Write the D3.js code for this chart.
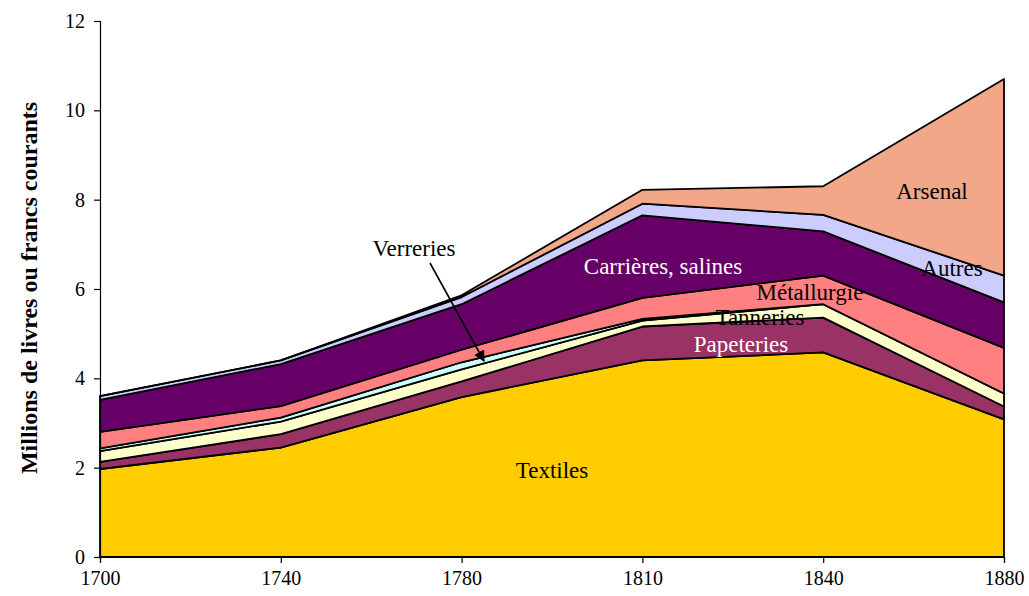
<!DOCTYPE html>
<html>
<head>
<meta charset="utf-8">
<script src="https://cdn.jsdelivr.net/npm/d3@7"></script>
<style>
  html, body { margin: 0; padding: 0; background: #fff; }
  svg text { font-family: "Liberation Serif", "DejaVu Serif", serif; }
</style>
</head>
<body>
<svg id="chart" width="1029" height="596"></svg>
<script>
// Years on the horizontal axis (evenly spaced categories)
const years = ["1700", "1740", "1780", "1810", "1840", "1880"];

// Value of each branch, millions of livres / francs courants
const textiles    = [1.97, 2.45, 3.58, 4.40, 4.58, 3.08];
const papeteries  = [0.16, 0.30, 0.35, 0.76, 0.78, 0.29];
const tanneries   = [0.24, 0.28, 0.27, 0.13, 0.30, 0.29];
const verreries   = [0.06, 0.09, 0.16, 0.04, 0.00, 0.00];
const metallurgie = [0.37, 0.26, 0.28, 0.47, 0.64, 1.02];
const carrieres   = [0.72, 0.94, 1.02, 1.85, 0.99, 1.02];
const autres      = [0.08, 0.08, 0.16, 0.26, 0.37, 0.60];
const arsenal     = [0.00, 0.00, 0.04, 0.31, 0.64, 4.40];

const yTicks = [0, 2, 4, 6, 8, 10, 12];

const series = [
  { key: "Textiles", values: textiles, color: "#FFCC00" },
  { key: "Papeteries", values: papeteries, color: "#993366" },
  { key: "Tanneries", values: tanneries, color: "#FFFFCC" },
  { key: "Verreries", values: verreries, color: "#CCFFFF" },
  { key: "Métallurgie", values: metallurgie, color: "#FF8080" },
  { key: "Carrières, salines", values: carrieres, color: "#660066" },
  { key: "Autres", values: autres, color: "#CCCCFF" },
  { key: "Arsenal", values: arsenal, color: "#F2A789" }
];

const rows = years.map((yr, i) => {
  const r = { year: yr };
  series.forEach(s => { r[s.key] = s.values[i]; });
  return r;
});

const svg = d3.select("#chart");
const plotLeft = 100, plotRight = 1004, plotTop = 21, plotBottom = 557;
const serif = "'Liberation Serif', 'DejaVu Serif', serif";

const x = d3.scalePoint().domain(years).range([plotLeft, plotRight]);
const y = d3.scaleLinear().domain([0, 12]).range([plotBottom, plotTop]);

const stacked = d3.stack().keys(series.map(s => s.key))(rows);

const area = d3.area()
  .x(d => x(d.data.year))
  .y0(d => y(d[0]))
  .y1(d => y(d[1]));

svg.append("g").selectAll("path")
  .data(stacked)
  .join("path")
  .attr("d", area)
  .attr("fill", (d, i) => series[i].color)
  .attr("stroke", "#000")
  .attr("stroke-width", 1.8)
  .attr("stroke-linejoin", "round");

// Axes
const yAxis = d3.axisLeft(y).tickValues(yTicks).tickSize(6).tickPadding(9).tickFormat(d3.format("d"));
const xAxis = d3.axisBottom(x).tickSize(6).tickPadding(8);

const gy = svg.append("g").attr("transform", `translate(${plotLeft},0)`).call(yAxis);
const gx = svg.append("g").attr("transform", `translate(0,${plotBottom})`).call(xAxis);
[gy, gx].forEach(g => {
  g.attr("font-family", serif).attr("font-size", 20);
  g.select(".domain").attr("stroke", "#000").attr("stroke-width", 1.2);
  g.selectAll(".tick line").attr("stroke", "#000").attr("stroke-width", 1.2);
  g.selectAll(".tick text").attr("fill", "#000");
});

// Axis title
svg.append("text")
  .attr("transform", "translate(37,288) rotate(-90)")
  .attr("text-anchor", "middle")
  .attr("font-family", serif)
  .attr("font-size", 24)
  .attr("font-weight", "bold")
  .attr("fill", "#000")
  .text("Millions de livres ou francs courants");

// In-area labels
const labels = [
  { text: "Textiles", x: 552, y: 478, color: "#000" },
  { text: "Papeteries", x: 741, y: 352, color: "#fff" },
  { text: "Tanneries", x: 760, y: 325, color: "#000" },
  { text: "Métallurgie", x: 810, y: 300, color: "#000" },
  { text: "Carrières, salines", x: 663, y: 274, color: "#fff" },
  { text: "Autres", x: 952, y: 276, color: "#000" },
  { text: "Arsenal", x: 932, y: 199, color: "#000" },
  { text: "Verreries", x: 414, y: 256, color: "#000" }
];

svg.append("g").selectAll("text")
  .data(labels)
  .join("text")
  .attr("x", d => d.x)
  .attr("y", d => d.y)
  .attr("text-anchor", "middle")
  .attr("font-family", serif)
  .attr("font-size", 23)
  .attr("fill", d => d.color)
  .text(d => d.text);

// Arrow pointing at the thin Verreries band
svg.append("defs").append("marker")
  .attr("id", "arrowhead")
  .attr("viewBox", "0 0 10 10")
  .attr("refX", 9).attr("refY", 5)
  .attr("markerWidth", 7).attr("markerHeight", 7)
  .attr("orient", "auto")
  .append("path")
  .attr("d", "M0,0 L10,5 L0,10 z")
  .attr("fill", "#000");

svg.append("line")
  .attr("x1", 430).attr("y1", 263)
  .attr("x2", 484).attr("y2", 361)
  .attr("stroke", "#000")
  .attr("stroke-width", 1.6)
  .attr("marker-end", "url(#arrowhead)");
</script>
</body>
</html>
